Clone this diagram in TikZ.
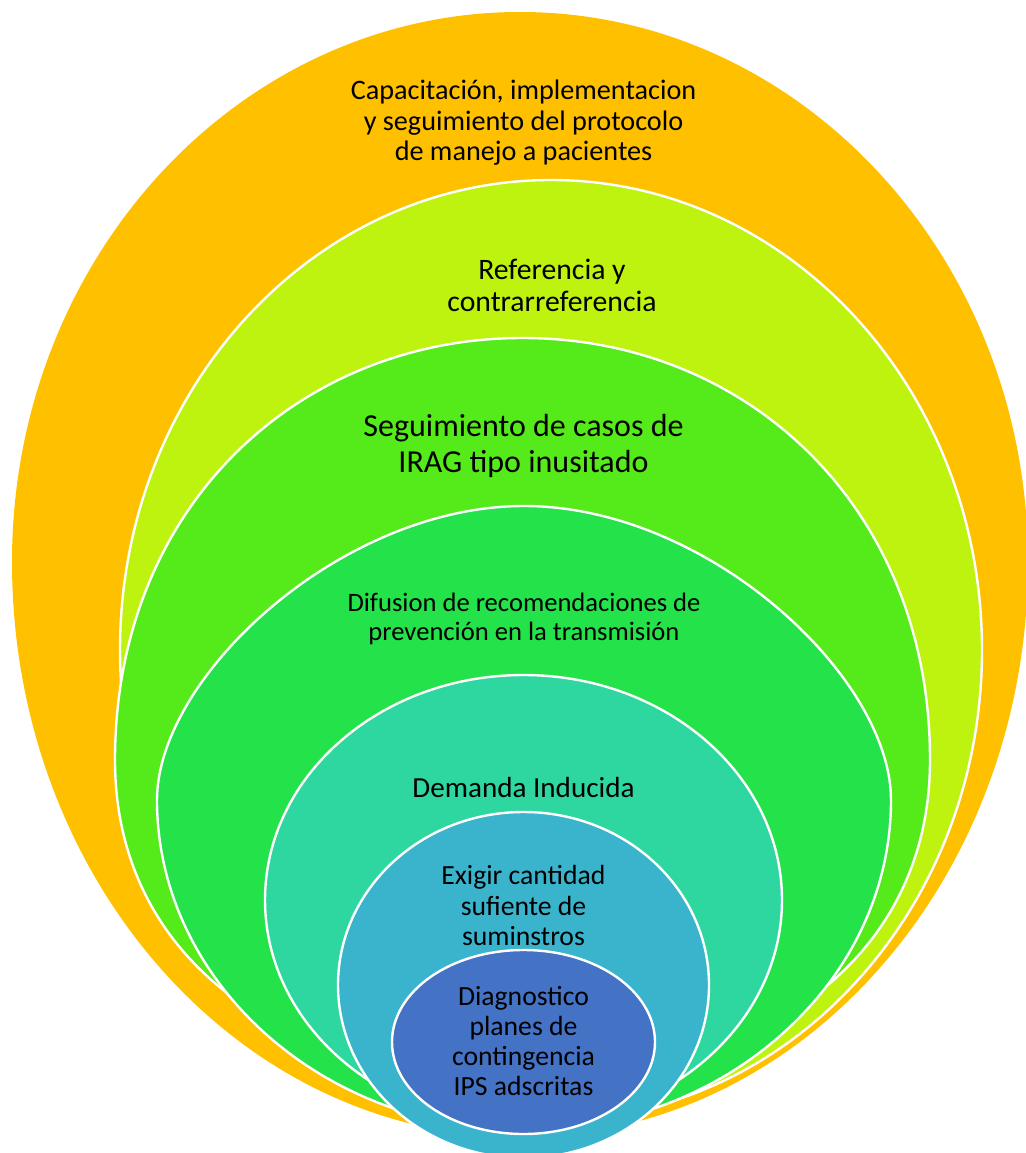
\documentclass[tikz,border=0pt]{standalone}
\usepackage{fontspec}
\setmainfont{Carlito}
\usepackage{tikz}

\definecolor{ringGold}{HTML}{FFC000}
\definecolor{ringLime}{HTML}{BEF30F}
\definecolor{ringGreen}{HTML}{55EA1A}
\definecolor{ringEmerald}{HTML}{24E24A}
\definecolor{ringTeal}{HTML}{2ED6A0}
\definecolor{ringCyan}{HTML}{3AB4CC}
\definecolor{ringBlue}{HTML}{4472C4}

\begin{document}
\begin{tikzpicture}[
  x=1pt, y=-1pt,
  ring/.style={draw=white, line width=2.4pt},
  lbl/.style={align=center, inner sep=0pt, text=black}
]
\useasboundingbox (0,0) rectangle (1025,1153);
% outer ring: two half ellipses, a bit longer below
\fill[ringGold] (12,562) arc[start angle=180, end angle=360, x radius=508, y radius=550]
  arc[start angle=0, end angle=180, x radius=508, y radius=575] -- cycle;
% second ring
\draw[ring, fill=ringLime] (551,650) ellipse[x radius=431, y radius=470];
% third ring, full at the sides and narrowing below
\draw[ring, fill=ringGreen] (522.5,338)
  .. controls (746.6,338) and (930,506.8) .. (930,760)
  .. controls (930,960) and (760,1080) .. (522.5,1080)
  .. controls (285,1080) and (115,960) .. (115,760)
  .. controls (115,506.8) and (298.4,338) .. cycle;
% fourth ring, reaching out past the others at the bottom
\draw[ring, fill=ringEmerald] (524,506)
  .. controls (707.5,506) and (891,677) .. (891,800)
  .. controls (891,981.5) and (725.9,1130) .. (524,1130)
  .. controls (322.1,1130) and (157,981.5) .. (157,800)
  .. controls (157,677) and (340.5,506) .. cycle;
% inner ellipses
\draw[ring, fill=ringTeal] (523.5,900) ellipse[x radius=258.5, y radius=225];
\draw[ring, fill=ringCyan] (523.5,985) ellipse[x radius=185.5, y radius=173];
\draw[ring, fill=ringBlue] (523.5,1042) ellipse[x radius=131.5, y radius=92];
% labels, from the outside in
\node[lbl, font=\fontsize{28.2}{30.5}\selectfont] (capac) at (523.5,123)
  {Capacitación, implementacion\\y seguimiento del protocolo\\de manejo a pacientes};
\node[lbl, font=\fontsize{29.7}{32}\selectfont] (refer) at (552,285)
  {Referencia y\\contrarreferencia};
\node[lbl, font=\fontsize{32}{35.5}\selectfont] (segui) at (523.5,446)
  {Seguimiento de casos de\\IRAG tipo inusitado};
\node[lbl, font=\fontsize{26.6}{29}\selectfont] (difus) at (524,619)
  {Difusion de recomendaciones de\\prevención en la transmisión};
\node[lbl, font=\fontsize{29.1}{31}\selectfont] (deman) at (523.5,787)
  {Demanda Inducida};
\node[lbl, font=\fontsize{27.7}{30.7}\selectfont] (exigir) at (523.5,905.5)
  {Exigir cantidad\\sufiente de\\suminstros};
\node[lbl, font=\fontsize{27.7}{30.2}\selectfont] (diagn) at (523.5,1041)
  {Diagnostico\\planes de\\contingencia\\IPS adscritas};
\end{tikzpicture}
\end{document}
